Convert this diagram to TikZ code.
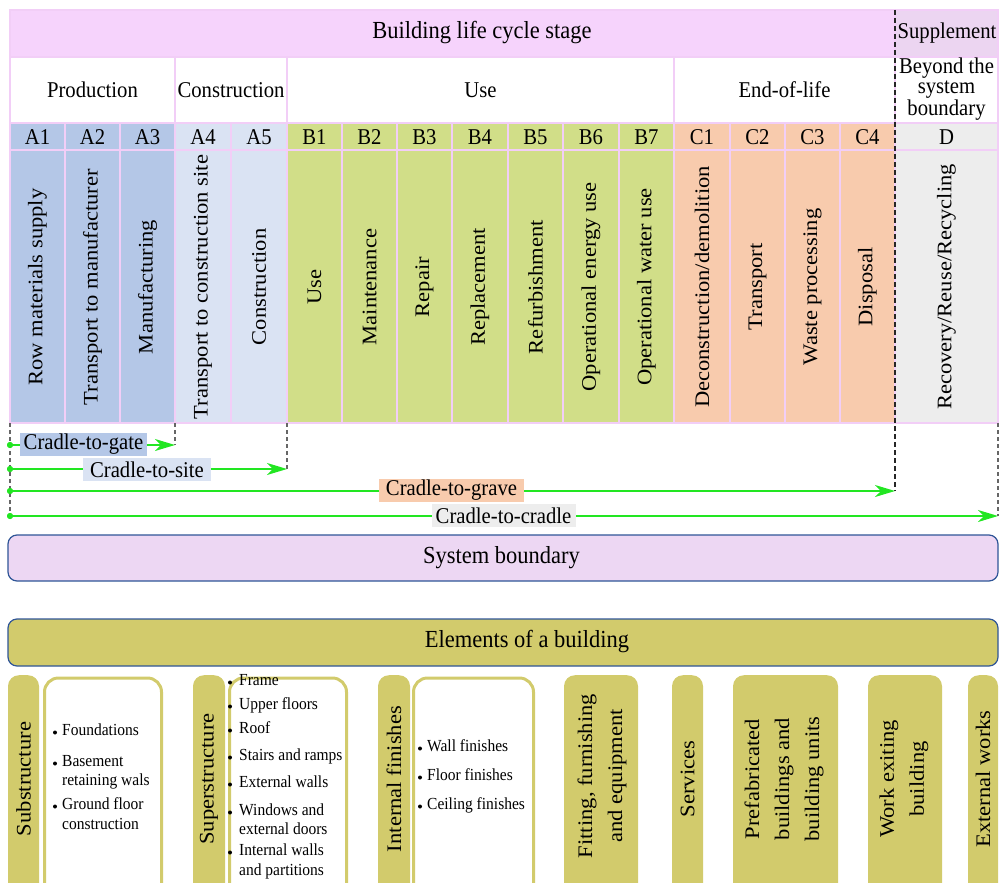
\documentclass[tikz,border=0pt]{standalone}
\usepackage{fontspec}
\setmainfont{Liberation Serif}
\usetikzlibrary{arrows.meta}

\definecolor{pinktop}{RGB}{246,211,252}
\definecolor{suppl}{RGB}{236,213,241}
\definecolor{gridline}{RGB}{242,206,247}
\definecolor{prodA}{RGB}{180,199,231}
\definecolor{consA}{RGB}{218,227,243}
\definecolor{useB}{RGB}{209,222,136}
\definecolor{eolC}{RGB}{248,203,173}
\definecolor{suppD}{RGB}{237,237,237}
\definecolor{flowgreen}{RGB}{34,230,34}
\definecolor{sysfill}{RGB}{237,215,243}
\definecolor{frameblue}{RGB}{47,85,151}
\definecolor{olive}{RGB}{210,203,108}

\begin{document}
\begin{tikzpicture}[x=1pt,y=-1pt,
  cell/.style={draw=gridline, line width=1.2pt, inner sep=0pt, outer sep=0pt},
  lbl/.style={inner sep=0pt, yscale=1.09, font=\fontsize{20.7}{22}\selectfont},
  ttl/.style={inner sep=0pt, yscale=1.09, font=\fontsize{22.5}{24}\selectfont},
  vlbl/.style={inner sep=0pt, yscale=1.09, rotate=90, align=center,
    font=\fontsize{20.7}{30}\selectfont},
  bitem/.style={anchor=west, inner sep=0pt, yscale=1.09,
    font=\fontsize{15.5}{18}\selectfont, text height=0.7em, text depth=0.2em},
  bdot/.style={circle, fill=black, inner sep=0pt, minimum size=4pt},
  guide/.style={draw=black!60, line width=1.2pt, dash pattern=on 4pt off 3pt},
  cutline/.style={draw=black!85, line width=2pt, dash pattern=on 5pt off 3pt},
  flowarrow/.style={draw=flowgreen, line width=1.3pt,
    -{Stealth[length=20pt,width=12pt,inset=6pt]}},
  flowdot/.style={circle, fill=flowgreen, inner sep=0pt, minimum size=6pt},
  tagbox/.style={inner xsep=3pt, inner ysep=0pt, minimum height=21.1pt,
    yscale=1.09, font=\fontsize{20.7}{22}\selectfont},
  sysbox/.style={draw=frameblue, line width=1.2pt, rounded corners=9pt,
    inner sep=0pt},
  eltab/.style={fill=olive, rounded corners=11pt, inner sep=0pt,
    anchor=north, minimum height=240},
  elbox/.style={draw=olive, fill=white, line width=3pt, rounded corners=14pt,
    inner sep=0pt, anchor=north, minimum height=240}
]
\useasboundingbox (0,0) rectangle (1001,883);
\clip (0,0) rectangle (1001,883);

% ---------- life-cycle stage header ----------
\node[cell, fill=pinktop, minimum width=885, minimum height=47] (stage) at (452.5,33.5) {};
\node[cell, fill=suppl, minimum width=103, minimum height=47] (suppl) at (946.5,33.5) {};
\node[ttl] (stage-t) at (482,33) {Building life cycle stage};
\node[lbl] (suppl-t) at (947,33) {Supplement};

% ---------- module groups ----------
\node[cell, fill=white, minimum width=165, minimum height=66] (grp-prod) at (92.5,90) {};
\node[cell, fill=white, minimum width=112, minimum height=66] (grp-cons) at (231,90) {};
\node[cell, fill=white, minimum width=387, minimum height=66] (grp-use) at (480.5,90) {};
\node[cell, fill=white, minimum width=221, minimum height=66] (grp-eol) at (784.5,90) {};
\node[cell, fill=white, minimum width=103, minimum height=66] (grp-beyond) at (946.5,90) {};
\node[lbl] (grp-prod-t) at (92.5,90) {Production};
\node[lbl] (grp-cons-t) at (231,90) {Construction};
\node[lbl] (grp-use-t) at (480.5,90) {Use};
\node[lbl] (grp-eol-t) at (784.5,90) {End-of-life};
\node[lbl, align=center, font=\fontsize{20.7}{18.8}\selectfont] (grp-beyond-t)
  at (946.5,89) {Beyond the\\system\\boundary};

% ---------- modules ----------
\foreach \l/\r/\id/\fc/\txt in {
  10/65/A1/prodA/Row materials supply,
  65/120/A2/prodA/Transport to manufacturer,
  120/175/A3/prodA/Manufacturing,
  175/231/A4/consA/Transport to construction site,
  231/287/A5/consA/Construction,
  287/342/B1/useB/Use,
  342/397/B2/useB/Maintenance,
  397/452/B3/useB/Repair,
  452/508/B4/useB/Replacement,
  508/563/B5/useB/Refurbishment,
  563/619/B6/useB/Operational energy use,
  619/674/B7/useB/Operational water use,
  674/730/C1/eolC/{Deconstruction/demolition},
  730/785/C2/eolC/Transport,
  785/840/C3/eolC/Waste processing,
  840/895/C4/eolC/Disposal,
  895/998/D/suppD/{Recovery/Reuse/Recycling}}
{
  \pgfmathsetmacro\w{\r-\l}
  \pgfmathsetmacro\c{(\l+\r)/2}
  \node[cell, fill=\fc, minimum width=\w, minimum height=27] (code-\id) at (\c,136.5) {};
  \node[lbl] (code-\id-t) at (\c,137) {\id};
  \node[cell, fill=\fc, minimum width=\w, minimum height=273] (mod-\id) at (\c,286.5) {};
  \node[vlbl] (mod-\id-t) at (\c,287) {\txt};
}

% ---------- scope arrows ----------
\node[flowdot] (gate-s) at (10,445) {};
\node[flowdot] (site-s) at (10,469) {};
\node[flowdot] (grave-s) at (10,491) {};
\node[flowdot] (cradle-s) at (10,516) {};
\coordinate (gate-e) at (175,445);
\coordinate (site-e) at (287,469);
\coordinate (grave-e) at (895,491);
\coordinate (cradle-e) at (998,516);
\coordinate (left-e) at (10,517);

\draw[guide] (mod-A1.south west) -- (left-e);
\draw[guide] (mod-A3.south east) -- (gate-e);
\draw[guide] (mod-A5.south east) -- (site-e);
\draw[guide] (mod-D.south east) -- (cradle-e);
\draw[cutline] (stage.north east) -- (grave-e);

\draw[flowarrow] (gate-s.center) -- (gate-e);
\draw[flowarrow] (site-s.center) -- (site-e);
\draw[flowarrow] (grave-s.center) -- (grave-e);
\draw[flowarrow] (cradle-s.center) -- (cradle-e);
\node[flowdot] at (gate-s) {};
\node[flowdot] at (site-s) {};
\node[flowdot] at (grave-s) {};
\node[flowdot] at (cradle-s) {};

\node[tagbox, fill=prodA, minimum width=127] (gate-t) at (83.5,444.5) {Cradle-to-gate};
\node[tagbox, fill=consA, minimum width=128] (site-t) at (147,469.5) {Cradle-to-site};
\node[tagbox, fill=eolC, minimum width=145] (grave-t) at (451.5,490.5) {Cradle-to-grave};
\node[tagbox, fill=suppD, minimum width=144] (cradle-t) at (503.5,515.5) {Cradle-to-cradle};

% ---------- system boundary and building elements ----------
\node[sysbox, fill=sysfill, minimum width=990, minimum height=46] (sys) at (503,558) {};
\node[ttl] (sys-t) at (501.5,558) {System boundary};
\node[sysbox, fill=olive, minimum width=990, minimum height=47] (elem) at (503,642.5) {};
\node[ttl] (elem-t) at (527,642) {Elements of a building};

% element tabs
\node[eltab, minimum width=31] (el-sub) at (23.5,675) {};
\node[eltab, minimum width=32] (el-sup) at (209,675) {};
\node[eltab, minimum width=32] (el-int) at (394,675) {};
\node[eltab, minimum width=74] (el-fit) at (601,675) {};
\node[eltab, minimum width=31] (el-serv) at (687.5,675) {};
\node[eltab, minimum width=105] (el-pre) at (785.5,675) {};
\node[eltab, minimum width=74] (el-work) at (905,675) {};
\node[eltab, minimum width=30] (el-ext) at (983,675) {};

% element detail boxes
\node[elbox, minimum width=117] (box-sub) at (103,676.5) {};
\node[elbox, minimum width=117] (box-sup) at (288,676.5) {};
\node[elbox, minimum width=120] (box-int) at (473.5,676.5) {};

\node[vlbl] (el-sub-t) at (23.5,779) {Substructure};
\node[vlbl] (el-sup-t) at (209,779) {Superstructure};
\node[vlbl] (el-int-t) at (394,779) {Internal finishes};
\node[vlbl] (el-fit-t) at (602,776) {Fitting, furnishing\\and equipment};
\node[vlbl] (el-serv-t) at (687.5,779) {Services};
\node[vlbl] (el-pre-t) at (784,779) {Prefabricated\\buildings and\\building units};
\node[vlbl] (el-work-t) at (904,779) {Work exiting\\building};
\node[vlbl] (el-ext-t) at (983,779) {External works};

% substructure items
\foreach \n/\y/\t in {1/733/Foundations, 2/764/Basement, 3/807/Ground floor}
{
  \node[bdot] (sub-b\n) at (55,\y-0.5) {};
  \node[bitem] (sub-i\n) at (62,\y) {\t};
}
\node[bitem] (sub-i2b) at (62,783) {retaining wals};
\node[bitem] (sub-i3b) at (62,827) {construction};

% superstructure items
\foreach \n/\y/\t in {1/683/Frame, 2/707/Upper floors, 3/731/Roof,
  4/758/Stairs and ramps, 5/785/External walls, 6/813/Windows and,
  7/853/Internal walls}
{
  \node[bdot] (sup-b\n) at (230,\y-0.5) {};
  \node[bitem] (sup-i\n) at (239,\y) {\t};
}
\node[bitem] (sup-i6b) at (239,832) {external doors};
\node[bitem] (sup-i7b) at (239,873) {and partitions};

% internal finishes items
\foreach \n/\y/\t in {1/749/Wall finishes, 2/778/Floor finishes, 3/807/Ceiling finishes}
{
  \node[bdot] (int-b\n) at (420,\y-0.5) {};
  \node[bitem] (int-i\n) at (427,\y) {\t};
}
\end{tikzpicture}
\end{document}
